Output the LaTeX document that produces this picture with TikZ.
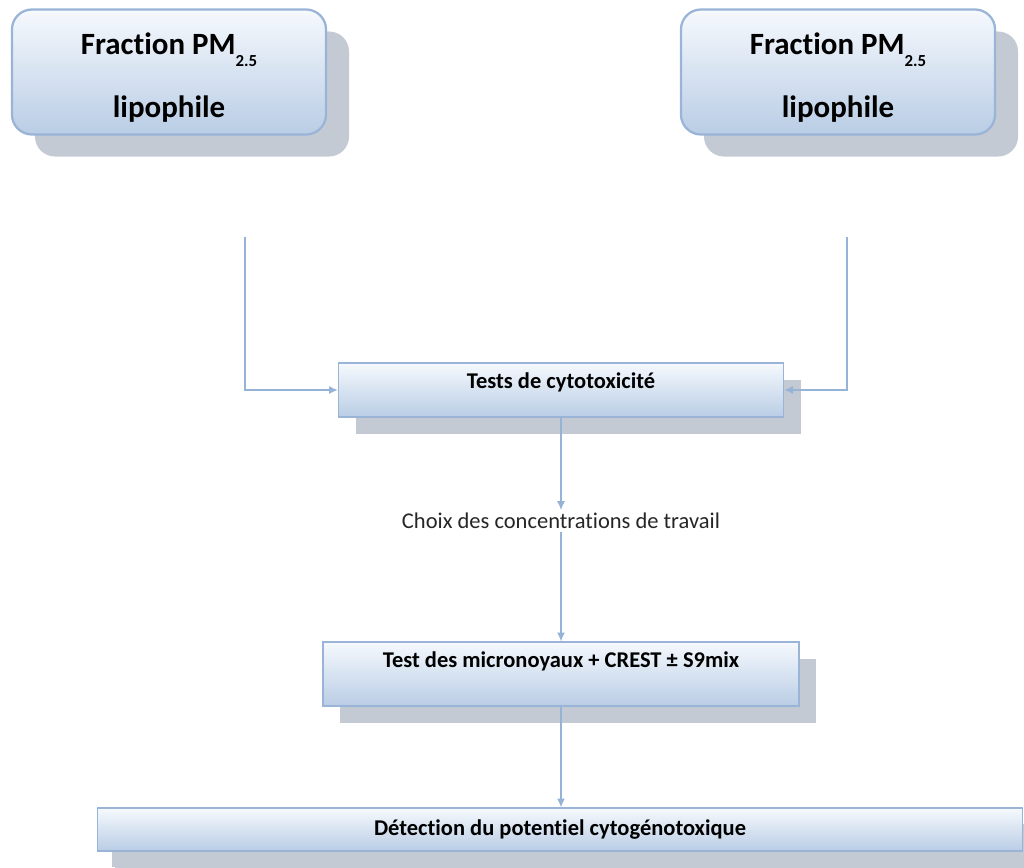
\documentclass[tikz,border=0pt]{standalone}
\usepackage{fontspec}
\setmainfont{Carlito}[Ligatures=NoCommon]
\usetikzlibrary{arrows.meta,positioning,shadows}

\definecolor{boxtop}{HTML}{F6F9FD}
\definecolor{boxbot}{HTML}{B9CDE5}
\definecolor{boxline}{HTML}{9AB4D8}
\definecolor{shd}{HTML}{C4CAD3}
\definecolor{cn}{HTML}{95B3D7}

\begin{document}
\begin{tikzpicture}[x=0.025cm, y=-0.025cm,
    src/.style={draw=boxline, line width=1.6pt, rounded corners=0.5cm,
                top color=boxtop, bottom color=boxbot,
                minimum width=7.85cm, minimum height=3.125cm, inner sep=0pt,
                align=center, font=\fontsize{22}{45}\selectfont\bfseries,
                drop shadow={shadow xshift=0.575cm, shadow yshift=-0.55cm,
                             fill=shd, opacity=1}},
    stp/.style={draw=boxline, line width=0.9pt,
                top color=boxtop, bottom color=boxbot, inner sep=0pt,
                font=\fontsize{16}{19}\selectfont\bfseries,
                drop shadow={shadow xshift=0.43cm, shadow yshift=-0.42cm,
                             fill=shd, opacity=1}},
    e/.style={draw=cn, line width=0.9pt, -{Latex[length=2.2mm, width=2mm]}},
    lbl/.style={font=\fontsize{16}{19}\selectfont, text=black!85, inner sep=2pt},
  ]
  \useasboundingbox (0,0) rectangle (1024,867);

  % source fractions
  \node[src] (f1) at (169,72)
    {\rule{0pt}{1.05em}Fraction PM\raisebox{-9pt}{\fontsize{12}{12}\selectfont 2.5}\\ lipophile};
  \node[src] (f2) at (838,72)
    {\rule{0pt}{1.05em}Fraction PM\raisebox{-9pt}{\fontsize{12}{12}\selectfont 2.5}\\ lipophile};
  \coordinate (s1) at (245,237);
  \coordinate (s2) at (847,237);

  % steps
  \node[stp, minimum width=11.125cm, minimum height=1.35cm,
        text height=0.625cm, text depth=0.725cm] (cyto) at (561,390) {Tests de cytotoxicité};
  \node[lbl] (choix) at (561,521) {Choix des concentrations de travail};
  \node[stp, minimum width=11.9cm, minimum height=1.6cm,
        text height=0.625cm, text depth=0.975cm] (mn) at (561,674) {Test des micronoyaux + CREST ± S9mix};
  \node[stp, minimum width=23.125cm, minimum height=1.075cm,
        drop shadow={shadow xshift=0.36cm, shadow yshift=-0.4cm, fill=shd, opacity=1}] (det) at (560,829.5)
        {Détection du potentiel cytogénotoxique};

  \draw[e] (s1) |- (cyto);
  \draw[e] (s2) |- (cyto);
  \draw[e] (cyto) -- (choix);
  \draw[e] (choix) -- (mn);
  \draw[e] (mn.south) -- (mn.south |- det.north);
\end{tikzpicture}
\end{document}
